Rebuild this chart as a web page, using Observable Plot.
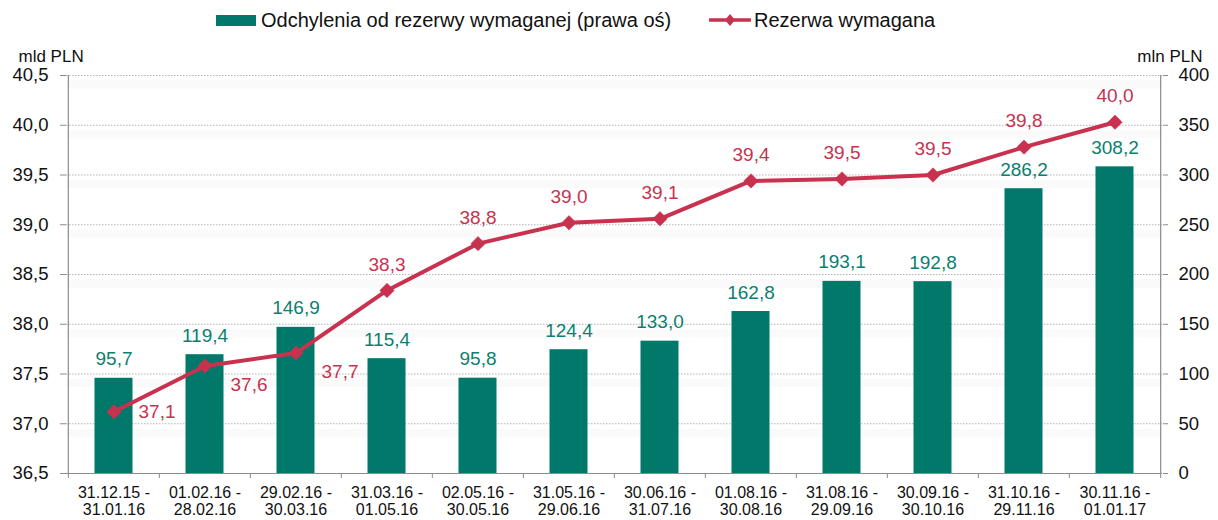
<!DOCTYPE html>
<html>
<head>
<meta charset="utf-8">
<script src="https://cdn.jsdelivr.net/npm/d3@7"></script>
<script src="https://cdn.jsdelivr.net/npm/@observablehq/plot@0.6"></script>
<style>
  html, body { margin: 0; padding: 0; background: #fff; }
  body { width: 1218px; height: 520px; overflow: hidden; font-family: "Liberation Sans", Arial, sans-serif; }
  #legend { position: relative; height: 38px; font-size: 20px; color: #111; }
  .item { position: absolute; top: 7px; display: flex; align-items: center; height: 26px; white-space: nowrap; }
  .swatch { width: 40px; height: 11px; background: #00796b; margin-right: 5px; }
  svg.lg { margin-right: 3px; }
</style>
</head>
<body>
<div id="legend">
  <div class="item" style="left:216px"><span class="swatch"></span><span>Odchylenia od rezerwy wymaganej (prawa oś)</span></div>
  <div class="item" style="left:709px"><svg class="lg" width="42" height="16"><line x1="1" y1="8" x2="41" y2="8" stroke="#c8324f" stroke-width="3.5" stroke-linecap="round"/><path d="M21,2L26,8L21,14L16,8Z" fill="#c8324f"/></svg><span>Rezerwa wymagana</span></div>
</div>
<div id="chart"></div>
<script>
const categories = [
  "31.12.15 -\n31.01.16", "01.02.16 -\n28.02.16", "29.02.16 -\n30.03.16", "31.03.16 -\n01.05.16",
  "02.05.16 -\n30.05.16", "31.05.16 -\n29.06.16", "30.06.16 -\n31.07.16", "01.08.16 -\n30.08.16",
  "31.08.16 -\n29.09.16", "30.09.16 -\n30.10.16", "31.10.16 -\n29.11.16", "30.11.16 -\n01.01.17"
];
// Odchylenia od rezerwy wymaganej, mln PLN (right axis)
const deviations = [95.7, 119.4, 146.9, 115.4, 95.8, 124.4, 133.0, 162.8, 193.1, 192.8, 286.2, 308.2];
// Rezerwa wymagana, mld PLN (left axis)
const required = [37.12, 37.58, 37.71, 38.34, 38.81, 39.02, 39.06, 39.44, 39.46, 39.50, 39.78, 40.03];
const leftTicks = [36.5, 37.0, 37.5, 38.0, 38.5, 39.0, 39.5, 40.0, 40.5];
const rightTicks = [0, 50, 100, 150, 200, 250, 300, 350, 400];

const leftMin = 36.5, rightPerLeft = 100; // right axis 0..400 maps onto left 36.5..40.5
const toLeft = v => leftMin + v / rightPerLeft;
const fmt = v => v.toFixed(1).replace(".", ",");

const barColor = "#00796b";
const lineColor = "#c8324f";

const W = 1218, H = 482, mL = 66, mR = 56, mT = 37, mB = 47;
const bw = (W - mL - mR) / categories.length;

const rows = categories.map((c, i) => ({cat: c, dev: deviations[i], req: required[i], i}));

const chart = Plot.plot({
  width: W, height: H,
  marginLeft: mL, marginRight: mR, marginTop: mT, marginBottom: mB,
  style: {fontFamily: "Liberation Sans, Arial, sans-serif", background: "#fff", overflow: "visible"},
  x: {type: "band", domain: categories, padding: 0, axis: null, label: null},
  y: {domain: [36.5, 40.5], axis: null, label: null},
  marks: [
    // faint shading under gridlines
    Plot.ruleY(leftTicks.slice(1), {stroke: "#fafafa", strokeWidth: 8, dy: 9}),
    Plot.ruleY(leftTicks.slice(1), {stroke: "#b3b3b3", strokeWidth: 1, strokeDasharray: "1.5,1.5"}),
    // bars
    Plot.barY(rows, {x: "cat", y1: leftMin, y2: d => toLeft(d.dev), fill: barColor, insetLeft: 26.5, insetRight: 26.5}),
    // axis frame
    Plot.ruleY([36.5], {stroke: "#8c8c8c", strokeWidth: 1.2}),
    Plot.ruleX([categories[0]], {dx: -bw / 2, stroke: "#8c8c8c", strokeWidth: 1.2}),
    Plot.ruleX([categories[categories.length - 1]], {dx: bw / 2, stroke: "#8c8c8c", strokeWidth: 1.2}),
    Plot.ruleX(categories, {x: d => d, y1: 36.5, y2: 36.5, insetBottom: -5, dx: -bw / 2, stroke: "#8c8c8c"}),
    Plot.ruleX([categories[categories.length - 1]], {y1: 36.5, y2: 36.5, insetBottom: -5, dx: bw / 2, stroke: "#8c8c8c"}),
    // axes
    Plot.axisY(leftTicks, {anchor: "left", label: null, tickSize: 6, tickPadding: 12, tickFormat: fmt, fontSize: 18.5, fill: "#111", stroke: "#8c8c8c"}),
    Plot.axisY(rightTicks.map(toLeft), {anchor: "right", label: null, tickSize: 5, tickPadding: 11, tickFormat: d => String(Math.round((d - leftMin) * rightPerLeft)), fontSize: 18.5, fill: "#111", stroke: "#8c8c8c"}),
    Plot.axisX({anchor: "bottom", label: null, tickSize: 0, tickPadding: 12, fontSize: 16, lineHeight: 1.08, fill: "#111"}),
    // line
    Plot.line(rows, {x: "cat", y: "req", stroke: lineColor, strokeWidth: 4}),
    Plot.dot(rows, {x: "cat", y: "req", symbol: "diamond2", r: 6.5, fill: lineColor, stroke: lineColor, strokeWidth: 0.5}),
    // bar labels
    Plot.text(rows, {x: "cat", y: d => toLeft(d.dev), text: d => fmt(d.dev), dy: -19, fill: "#0b7f70", fontSize: 19}),
    // line labels
    Plot.text(rows.filter(d => d.i === 0), {x: "cat", y: "req", text: d => fmt(d.req), dx: 43, dy: 0, fill: lineColor, fontSize: 19}),
    Plot.text(rows.filter(d => d.i === 1 || d.i === 2), {x: "cat", y: "req", text: d => fmt(d.req), dx: 44, dy: 19, fill: lineColor, fontSize: 19}),
    Plot.text(rows.filter(d => d.i > 2), {x: "cat", y: "req", text: d => fmt(d.req), dy: -26, fill: lineColor, fontSize: 19}),
    // unit labels
    Plot.text(["mld PLN"], {frameAnchor: "top-left", text: d => d, dx: -48, dy: -26, textAnchor: "start", fontSize: 17, fill: "#111"}),
    Plot.text(["mln PLN"], {frameAnchor: "top-right", text: d => d, dx: 40, dy: -26, textAnchor: "end", fontSize: 17, fill: "#111"})
  ]
});
document.getElementById("chart").appendChild(chart);
</script>
</body>
</html>
